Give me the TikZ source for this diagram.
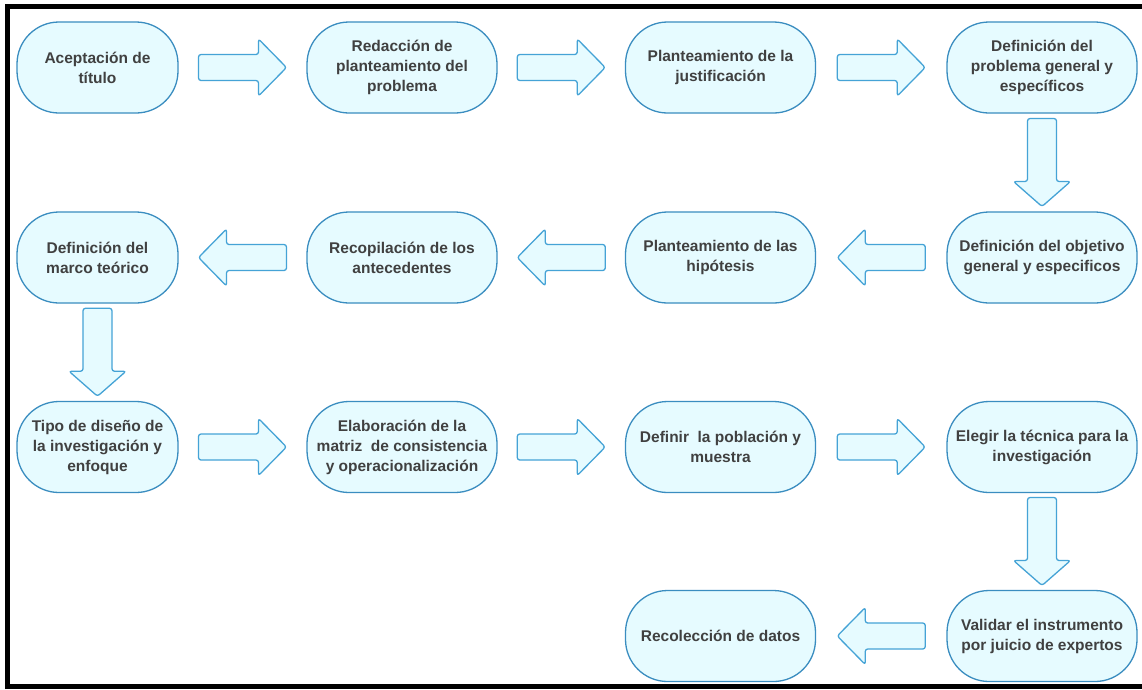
\documentclass[tikz,border=0pt]{standalone}
\usepackage{fontspec}
\setmainfont{Liberation Sans}
\usetikzlibrary{calc}
\definecolor{boxfill}{HTML}{E6FBFF}
\definecolor{boxline}{HTML}{3A8DC0}
\definecolor{arrline}{HTML}{45A3D6}
\definecolor{txt}{HTML}{404040}
\tikzset{
  box/.style={draw=boxline, line width=1.3pt, fill=boxfill, rounded corners=42pt,
    minimum height=91pt, inner sep=1pt, align=center, text=txt,
    font=\bfseries\fontsize{15.5}{20}\selectfont},
  wide/.style={box, minimum width=190pt},
  narrow/.style={box, minimum width=161pt},
  blockarr/.style={draw=arrline, line width=1.3pt, fill=boxfill, rounded corners=2.5pt, line join=round},
  arrowR/.pic={\draw[blockarr] (-44,-13) -- (16,-13) -- (16,-28.5) -- (44,0) -- (16,28.5) -- (16,13) -- (-44,13) -- cycle;},
  arrowL/.pic={\draw[blockarr] (44,-13) -- (-16,-13) -- (-16,-28.5) -- (-44,0) -- (-16,28.5) -- (-16,13) -- (44,13) -- cycle;},
  arrowD/.pic={\draw[blockarr] (-14.5,-44) -- (-14.5,19) -- (-28.5,19) -- (0,44) -- (28.5,19) -- (14.5,19) -- (14.5,-44) -- cycle;}
}
\begin{document}
\begin{tikzpicture}[x=1pt,y=-1pt]
\useasboundingbox (0,0) rectangle (1142,689);
\fill[white] (0,0) rectangle (1142,689);
\draw[line width=5pt] (7.5,689) -- (7.5,6.5) -- (1142,6.5);
\draw[line width=5pt] (5,686.5) -- (1142,686.5);
% row 1
\node[narrow] (n1) at (97.5,67.5) {Aceptación de\\título};
\node[wide] (n2) at (402,67.5) {Redacción de\\planteamiento del\\problema};
\node[wide] (n3) at (720.5,67.5) {Planteamiento de la\\justificación};
\node[wide] (n4) at (1042,67.5) {Definición del\\problema general y\\específicos};
% row 2
\node[narrow] (n8) at (97.5,257.5) {Definición del\\marco teórico};
\node[wide] (n7) at (402,257.5) {Recopilación de los\\antecedentes};
\node[wide] (n6) at (720.5,257.5) {Planteamiento de las\\hipótesis};
\node[wide] (n5) at (1042,257.5) {Definición del objetivo\\general y especificos};
% row 3
\node[narrow] (n9) at (97.5,447) {Tipo de diseño de\\la investigación y\\enfoque};
\node[wide] (n10) at (402,447) {Elaboración de la\\matriz\ \ de consistencia\\y operacionalización};
\node[wide] (n11) at (720.5,447) {Definir\ \ la población y\\muestra};
\node[wide] (n12) at (1042,447) {Elegir la técnica para la\\investigación};
% row 4
\node[wide] (n14) at (720.5,636) {Recolección de datos};
\node[wide] (n13) at (1042,636) {Validar el instrumento\\por juicio de expertos};
% arrows
\pic at ($(n1.east)!0.5!(n2.west)$) {arrowR};
\pic at ($(n2.east)!0.5!(n3.west)$) {arrowR};
\pic at ($(n3.east)!0.5!(n4.west)$) {arrowR};
\pic at ($(n4.south)!0.5!(n5.north)$) {arrowD};
\pic at ($(n5.west)!0.5!(n6.east)$) {arrowL};
\pic at ($(n6.west)!0.5!(n7.east)$) {arrowL};
\pic at ($(n7.west)!0.5!(n8.east)$) {arrowL};
\pic at ($(n8.south)!0.5!(n9.north)$) {arrowD};
\pic at ($(n9.east)!0.5!(n10.west)$) {arrowR};
\pic at ($(n10.east)!0.5!(n11.west)$) {arrowR};
\pic at ($(n11.east)!0.5!(n12.west)$) {arrowR};
\pic at ($(n12.south)!0.5!(n13.north)$) {arrowD};
\pic at ($(n13.west)!0.5!(n14.east)$) {arrowL};
\end{tikzpicture}
\end{document}
